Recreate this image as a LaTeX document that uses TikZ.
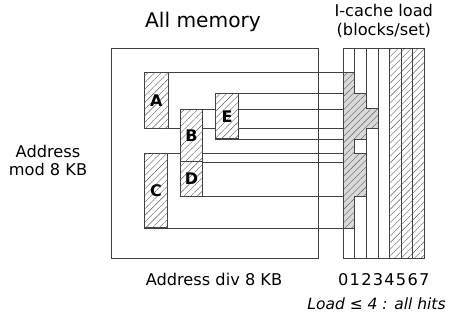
\documentclass[tikz,border=0pt]{standalone}
\usepackage{fontspec}
\setmainfont{DejaVu Sans}
\usetikzlibrary{patterns.meta,backgrounds}

\begin{document}
\begin{tikzpicture}[x=1pt, y=-1pt, line width=0.8pt, draw=black!75,
    lbl/.style={font=\fontsize{16.2}{16}\selectfont, anchor=base, inner sep=0pt},
    hatch/.style={pattern={Lines[angle=45,distance=4.7pt,line width=0.4pt]}, pattern color=black!65},
    block/.style={draw=black!75, fill=white, anchor=north west, inner sep=0pt,
      font=\bfseries\fontsize{16}{16}\selectfont, postaction={hatch}},
    wire/.style={draw=black!75}]
  \useasboundingbox (0,0) rectangle (453,327);

  % all memory
  \node[draw=black!75, anchor=north west, minimum width=207pt, minimum height=210pt, inner sep=0pt] (mem) at (111,48.3) {};

  % cache columns, boundaries 0..7
  \foreach \k in {0,...,7}
    \coordinate (c\k) at (343.3+11.57*\k, 48.3);
  \coordinate (cb) at (343.3, 258.3);

  % blocks
  \node[block, minimum width=24pt, minimum height=55.4pt] (A) at (144,72.3) {A};
  \node[block, minimum width=22.6pt, minimum height=52.3pt] (B) at (179.7,108.7) {B};
  \node[block, minimum width=22.6pt, minimum height=34.7pt] (D) at (179.7,161) {D};
  \node[block, minimum width=23.4pt, minimum height=74pt] (C) at (144,153.3) {C};
  \node[block, minimum width=23.3pt, minimum height=45pt] (E) at (215,93.3) {E};

  % lines from block edges to the cache
  \begin{scope}[on background layer]
  \foreach \e in {A.north west,A.south west,B.north west,B.south west,
                  C.north west,C.south west,D.south west,E.north west,E.south west}
    \draw[wire] (\e) -- (\e -| c0);
  \end{scope}

  % cache load
  \path[hatch] (c4) rectangle (c7 |- cb);
  \draw (c0) rectangle (c7 |- cb);
  \foreach \k in {1,...,6}
    \draw (c\k) -- (c\k |- cb);
  \draw[fill=black!15, postaction={hatch}]
    (c0 |- A.north) -- (c1 |- A.north) -- (c1 |- E.north) -- (c2 |- E.north)
    -- (c2 |- B.north) -- (c3 |- B.north) -- (c3 |- A.south) -- (c2 |- A.south)
    -- (c2 |- E.south) -- (c1 |- E.south) -- (c1 |- C.north) -- (c2 |- C.north)
    -- (c2 |- D.south) -- (c1 |- D.south) -- (c1 |- C.south) -- (c0 |- C.south) -- cycle;

  % texts
  \node[lbl, font=\fontsize{20.2}{20}\selectfont] (title) at (203,27.5) {All memory};
  \node[lbl] (load1) at (383.8,16.7) {I-cache load};
  \node[lbl] (load2) at (383.8,35) {(blocks/set)};
  \node[lbl] (mod1) at (48,157) {Address};
  \node[lbl] (mod2) at (48,175) {mod 8 KB};
  \node[lbl] (div) at (214,285) {Address div 8 KB};
  \foreach \k in {0,...,7}
    \node[lbl] (n\k) at (c\k |- 0,285) {\k};
  \node[lbl, anchor=base east, font=\itshape\fontsize{15.5}{15}\selectfont] (note) at (446,309) {Load ≤ 4 : all hits};
\end{tikzpicture}
\end{document}
